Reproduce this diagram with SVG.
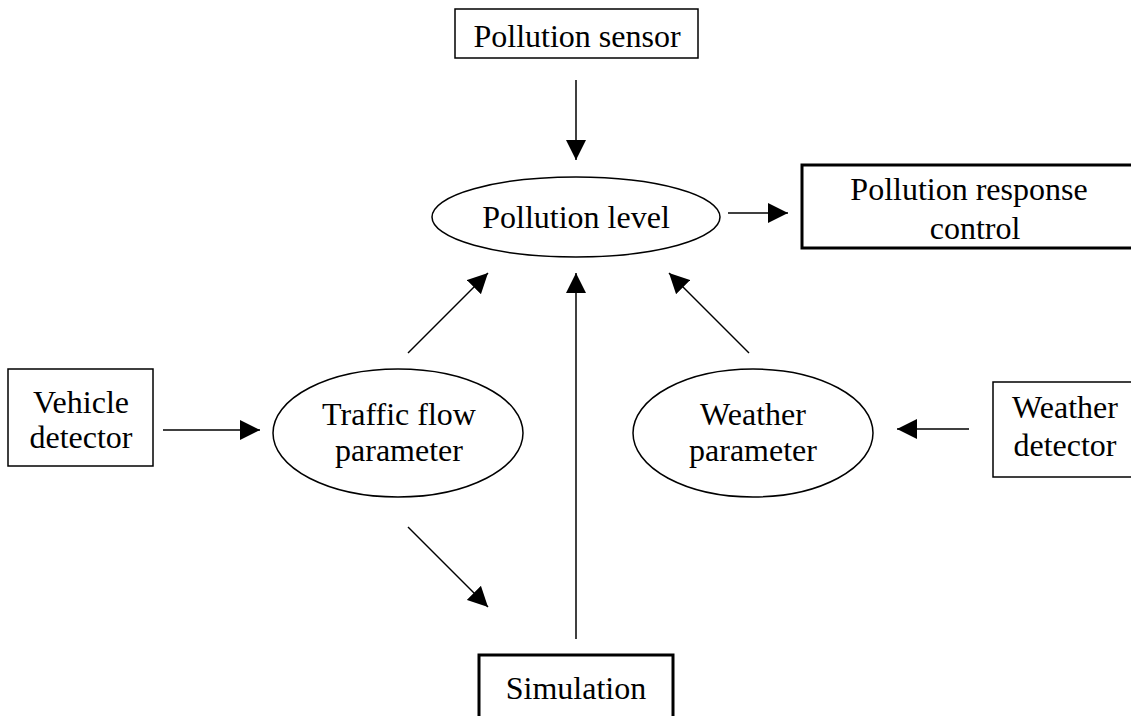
<svg xmlns="http://www.w3.org/2000/svg" width="1131" height="716" viewBox="0 0 1131 716">
<style>
text{font-family:"Liberation Serif","Times New Roman",serif;font-size:32px;fill:#000;text-anchor:middle}
.box{fill:#fff;stroke:#000;stroke-width:1.5}
.thick{fill:#fff;stroke:#000;stroke-width:3}
.ell{fill:#fff;stroke:#000;stroke-width:1.5}
.conn line{stroke:#000;stroke-width:1.5;marker-end:url(#ah)}
</style>
<defs>
<marker id="ah" markerUnits="userSpaceOnUse" markerWidth="20" markerHeight="20" refX="20" refY="10" orient="auto">
<path d="M0,0 L20,10 L0,20 z" fill="#000"/>
</marker>
</defs>
<rect width="1131" height="716" fill="#fff"/>
<g id="pollution-sensor"><rect class="box" x="455" y="9" width="243" height="49"/><text x="577" y="47">Pollution sensor</text></g>
<g id="pollution-level"><ellipse class="ell" cx="576" cy="217" rx="144" ry="40"/><text x="576" y="228">Pollution level</text></g>
<g id="pollution-response-control"><rect class="thick" x="802" y="165" width="340" height="83"/><text x="969" y="200">Pollution response</text><text x="975" y="239">control</text></g>
<g id="vehicle-detector"><rect class="box" x="8" y="369" width="145" height="97"/><text x="81" y="413">Vehicle</text><text x="81" y="448">detector</text></g>
<g id="traffic-flow-parameter"><ellipse class="ell" cx="398" cy="433" rx="125" ry="64"/><text x="399" y="425">Traffic flow</text><text x="399" y="461">parameter</text></g>
<g id="weather-parameter"><ellipse class="ell" cx="753" cy="433" rx="120" ry="64"/><text x="753" y="425">Weather</text><text x="753" y="461">parameter</text></g>
<g id="weather-detector"><rect class="box" x="993" y="382" width="150" height="95"/><text x="1065" y="418">Weather</text><text x="1065" y="456">detector</text></g>
<g id="simulation"><rect class="thick" x="479" y="655" width="194" height="80"/><text x="576" y="699">Simulation</text></g>
<g id="connectors" class="conn">
<line x1="576" y1="80" x2="576" y2="160"/>
<line x1="728" y1="213" x2="788" y2="213"/>
<line x1="408" y1="353" x2="488" y2="273"/>
<line x1="576" y1="639" x2="576" y2="273"/>
<line x1="749" y1="353" x2="669" y2="273"/>
<line x1="163" y1="430" x2="260" y2="430"/>
<line x1="969" y1="429" x2="897" y2="429"/>
<line x1="408" y1="527" x2="488" y2="607"/>
</g>
</svg>
